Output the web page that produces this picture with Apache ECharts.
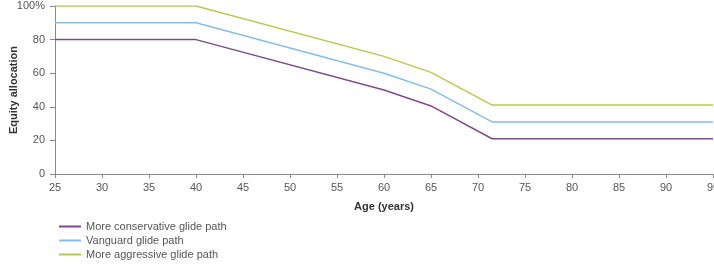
<!DOCTYPE html>
<html>
<head>
<meta charset="utf-8">
<script src="https://cdn.jsdelivr.net/npm/echarts@6/dist/echarts.min.js"></script>
<style>
  html, body { margin: 0; padding: 0; background: #fff; }
  #chart { width: 714px; height: 266px; }
</style>
</head>
<body>
<div id="chart"></div>
<script>
const ages = [25, 40, 60, 65, 71.5, 95];
const conservative = [80, 80, 50, 40.5, 21, 21];
const vanguard = [90, 90, 60, 50.5, 31, 31];
const aggressive = [100, 100, 70, 60.5, 41, 41];
const seriesNames = ["More conservative glide path", "Vanguard glide path", "More aggressive glide path"];
const colors = ["#7d4a8f", "#85bde6", "#b8c94d"];

const pairs = (vals) => ages.map((a, i) => [a, vals[i]]);

const chart = echarts.init(document.getElementById("chart"));
const font = "'Liberation Sans', Arial, sans-serif";

chart.setOption({
  animation: false,
  textStyle: { fontFamily: font },
  grid: { left: 55, right: 1, top: 6, bottom: 92, containLabel: false, outerBoundsMode: "none" },
  legend: {
    orient: "vertical",
    left: 54,
    top: 216,
    height: 60,
    itemWidth: 22,
    itemHeight: 2,
    itemGap: 3,
    icon: "rect",
    textStyle: { fontSize: 11, color: "#555", fontFamily: font },
    data: seriesNames
  },
  xAxis: {
    type: "value",
    min: 25,
    max: 95,
    interval: 5,
    name: "Age (years)",
    nameLocation: "middle",
    nameGap: 27,
    nameMoveOverlap: false,
    nameTextStyle: { fontSize: 11, fontWeight: "bold", color: "#333" },
    axisLine: { lineStyle: { color: "#888", width: 1 } },
    axisTick: { show: true, length: 4, lineStyle: { color: "#888" } },
    axisLabel: { fontSize: 11, color: "#555", margin: 8, showMaxLabel: true },
    splitLine: { show: false }
  },
  yAxis: {
    type: "value",
    min: 0,
    max: 100,
    interval: 20,
    name: "Equity allocation",
    nameLocation: "middle",
    nameGap: 36,
    nameMoveOverlap: false,
    nameTextStyle: { fontSize: 11, fontWeight: "bold", color: "#333" },
    axisLine: { show: true, lineStyle: { color: "#888", width: 1 } },
    axisTick: { show: true, length: 5, lineStyle: { color: "#888" } },
    axisLabel: {
      fontSize: 11, color: "#555", margin: 10,
      formatter: (v) => v === 100 ? "100%" : String(v)
    },
    splitLine: { show: false }
  },
  series: [conservative, vanguard, aggressive].map((vals, i) => ({
    name: seriesNames[i],
    type: "line",
    symbol: "none",
    data: pairs(vals),
    lineStyle: { width: 1.5, color: colors[i] },
    itemStyle: { color: colors[i] }
  }))
});
</script>
</body>
</html>
